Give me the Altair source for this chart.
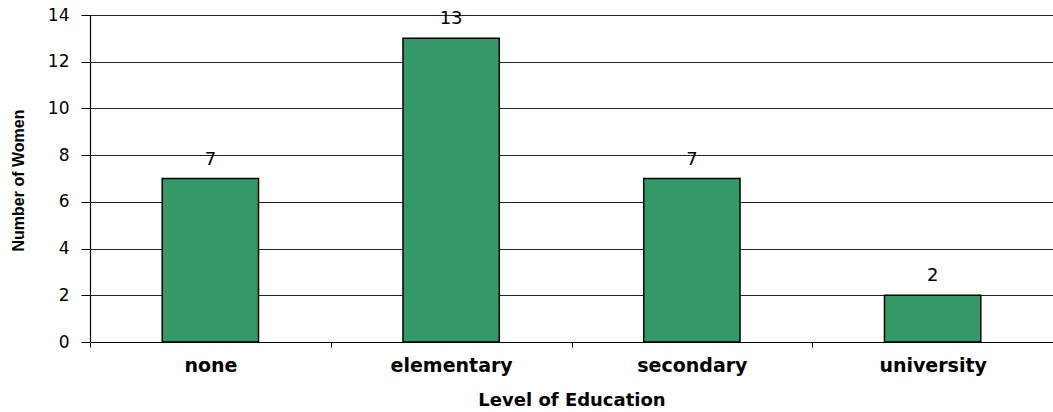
import altair as alt
import pandas as pd

# Survey counts by level of education
levels = ["none", "elementary", "secondary", "university"]
women = [7, 13, 7, 2]

df = pd.DataFrame({"level": levels, "count": women})

x_enc = alt.X(
    "level:N",
    sort=levels,
    title="Level of Education",
    scale=alt.Scale(paddingInner=0, paddingOuter=0),
    axis=alt.Axis(
        labelAngle=0,
        labelFont="DejaVu Sans",
        labelFontWeight="bold",
        labelFontSize=19,
        labelColor="#000",
        labelPadding=9,
        tickBand="extent",
        tickColor="#000",
        tickSize=5,
        domainColor="#000",
        domainWidth=1.2,
        grid=False,
        titleFont="DejaVu Sans",
        titleFontWeight="bold",
        titleFontSize=18,
        titleColor="#000",
        titleBaseline="top",
        titleY=49,
    ),
)

y_enc = alt.Y(
    "count:Q",
    title="Number of Women",
    scale=alt.Scale(domain=[0, 14], nice=False),
    axis=alt.Axis(
        values=[0, 2, 4, 6, 8, 10, 12, 14],
        labelFont="DejaVu Sans",
        labelFontSize=17,
        labelColor="#000",
        labelPadding=12,
        tickColor="#000",
        tickSize=9,
        domainColor="#000",
        domainWidth=1.2,
        grid=True,
        gridColor="#222",
        gridWidth=1,
        titleFont="Liberation Sans",
        titleFontWeight="bold",
        titleFontSize=16,
        titleColor="#000",
        titleAngle=-90,
        titleAlign="center",
        titleBaseline="middle",
        titleX=-72,
        titleY=165,
    ),
)

# Bars take 40% of each category band, centred in it
bars = alt.Chart(df).mark_bar(
    color="#339966", stroke="#000", strokeWidth=1.5, width={"band": 0.4}
).encode(x=x_enc, y=y_enc)

labels = alt.Chart(df).mark_text(
    font="DejaVu Sans", fontSize=18, color="#000", baseline="alphabetic", dy=-14
).encode(x=alt.X("level:N", sort=levels), y="count:Q", text="count:Q")

chart = (
    alt.layer(bars, labels)
    .properties(
        width=963,
        height=327,
        autosize=alt.AutoSizeParams(type="none"),
        padding={"left": 90, "top": 15, "right": 0, "bottom": 70},
        background="white",
    )
    .configure_view(stroke=None)
)

chart.save("out.html", embed_options={"renderer": "svg", "actions": False})
